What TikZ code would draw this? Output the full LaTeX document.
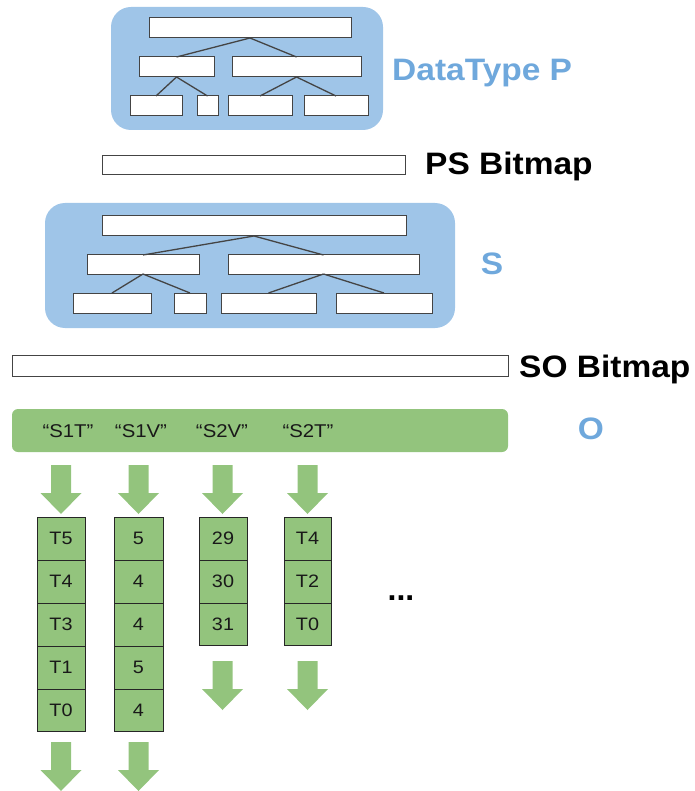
\documentclass[tikz,border=0pt]{standalone}
\usepackage{graphicx}
\usepackage{fontspec}
\setmainfont{Liberation Sans}
\definecolor{boxblue}{HTML}{9FC5E8}
\definecolor{txtblue}{HTML}{6FA8DC}
\definecolor{gr}{HTML}{93C47D}
\definecolor{edge}{HTML}{444444}
\newcommand{\bx}[5]{\node[treebox, minimum width={(#4-#2)*1pt}, minimum height={(#5-#3)*1pt}] (#1) at ({(#2+#4)/2},{(#3+#5)/2}) {};}
\newcommand{\cell}[6]{\node[cellbox, minimum width={(#4-#2)*1pt}, minimum height={(#5-#3)*1pt}] (#1) at ({(#2+#4)/2},{(#3+#5)/2}) {\fontsize{18}{18}\selectfont\scalebox{1.1}[1]{#6}};}
\tikzset{
  treebox/.style={draw=edge, fill=white, line width=1pt, inner sep=0pt, outer sep=0pt},
  cellbox/.style={draw=black!85, fill=gr, line width=1pt, inner sep=0pt, outer sep=0pt, text=black!90},
  conn/.style={draw=edge, line width=1.3pt},
  bigbold/.style={font=\fontsize{31}{31}\selectfont\bfseries, inner sep=0pt, anchor=base west, xscale=1.08},
  bluelabel/.style={text=txtblue},
  quote/.style={font=\fontsize{18.5}{18.5}\selectfont, text=black!90, inner sep=0pt, xscale=1.1},
  garrow/.pic={\fill[gr] (-10,0) -- (10,0) -- (10,28) -- (20.5,28) -- (0,49) -- (-20.5,28) -- (-10,28) -- cycle;}
}
\begin{document}
\begin{tikzpicture}[x=1pt,y=-1pt]
\useasboundingbox (0,0) rectangle (694,791);
% ---------- DataType P ----------
\node[fill=boxblue, rounded corners=20pt, minimum width=272pt, minimum height=123pt, inner sep=0pt] (pbg) at (247,68.5) {};
\bx{proot}{149}{18}{351}{38}
\bx{pml}{139}{57}{214}{77}
\bx{pmr}{232}{57}{361}{77}
\bx{pb1}{130}{96}{182}{116}
\bx{pb2}{197}{96}{218}{116}
\bx{pb3}{228}{96}{292}{116}
\bx{pb4}{304}{96}{368}{116}
\draw[conn] (proot.south) -- (pml.north);
\draw[conn] (proot.south) -- (pmr.north);
\draw[conn] (pml.south) -- (pb1.north);
\draw[conn] (pml.south) -- (pb2.north);
\draw[conn] (pmr.south) -- (pb3.north);
\draw[conn] (pmr.south) -- (pb4.north);
\node[bigbold, bluelabel] (lp) at (392,81) {DataType P};
% ---------- PS Bitmap ----------
\bx{psbm}{102}{156}{405}{175}
\node[bigbold] (lps) at (425,175) {PS Bitmap};
% ---------- S ----------
\node[fill=boxblue, rounded corners=20pt, minimum width=410pt, minimum height=125pt, inner sep=0pt] (sbg) at (250,265.5) {};
\bx{sroot}{102}{216}{406}{236}
\bx{sml}{87}{255}{199}{274}
\bx{smr}{228}{255}{419}{274}
\bx{sb1}{73}{293}{151}{313}
\bx{sb2}{174}{293}{206}{313}
\bx{sb3}{221}{293}{316}{313}
\bx{sb4}{336}{293}{432}{313}
\draw[conn] (sroot.south) -- (sml.north);
\draw[conn] (sroot.south) -- (smr.north);
\draw[conn] (sml.south) -- (sb1.north);
\draw[conn] (sml.south) -- (sb2.north);
\draw[conn] (smr.south) -- (sb3.north);
\draw[conn] (smr.south) -- (sb4.north);
\node[bigbold, bluelabel, anchor=center] (ls) at (492,264) {S};
% ---------- SO Bitmap ----------
\bx{sobm}{12}{355}{508}{376}
\node[bigbold] (lso) at (519,377) {SO Bitmap};
% ---------- O ----------
\node[fill=gr, rounded corners=6pt, minimum width=496pt, minimum height=43pt, inner sep=0pt] (obar) at (260,430.5) {};
\node[quote] (q1) at (68,431) {“S1T”};
\node[quote] (q2) at (141,431) {“S1V”};
\node[quote] (q3) at (222,431) {“S2V”};
\node[quote] (q4) at (308,431) {“S2T”};
\node[bigbold, bluelabel, anchor=center] (lo) at (591,429) {O};
% ---------- arrows ----------
\pic at (61,465) {garrow};
\pic at (138.5,465) {garrow};
\pic at (222.5,465) {garrow};
\pic at (307.5,465) {garrow};
\pic at (222.5,661) {garrow};
\pic at (307.5,661) {garrow};
\pic at (61,742) {garrow};
\pic at (138.5,742) {garrow};
% ---------- columns ----------
\cell{a1}{37}{517}{85}{560}{T5}
\cell{a2}{37}{560}{85}{603}{T4}
\cell{a3}{37}{603}{85}{646}{T3}
\cell{a4}{37}{646}{85}{689}{T1}
\cell{a5}{37}{689}{85}{731}{T0}
\cell{b1}{114}{517}{163}{560}{5}
\cell{b2}{114}{560}{163}{603}{4}
\cell{b3}{114}{603}{163}{646}{4}
\cell{b4}{114}{646}{163}{689}{5}
\cell{b5}{114}{689}{163}{731}{4}
\cell{c1}{199}{517}{247}{560}{29}
\cell{c2}{199}{560}{247}{603}{30}
\cell{c3}{199}{603}{247}{645}{31}
\cell{d1}{284}{517}{331}{560}{T4}
\cell{d2}{284}{560}{331}{603}{T2}
\cell{d3}{284}{603}{331}{645}{T0}
\node[font=\fontsize{32}{32}\selectfont\bfseries, inner sep=0pt, anchor=base] (dots) at (401,600) {...};
\end{tikzpicture}
\end{document}
